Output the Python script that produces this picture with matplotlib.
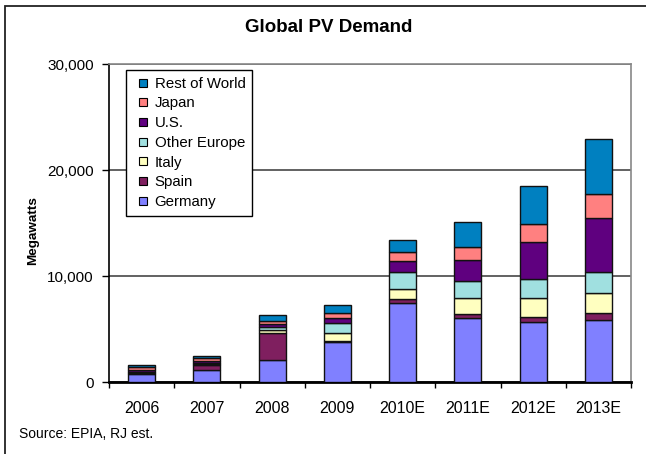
import numpy as np
import matplotlib.pyplot as plt
from matplotlib.patches import Rectangle
from matplotlib.lines import Line2D
from matplotlib.ticker import FuncFormatter, FixedLocator

plt.rcParams['font.family'] = ['Liberation Sans', 'DejaVu Sans']

years = ['2006', '2007', '2008', '2009', '2010E', '2011E', '2012E', '2013E']

# megawatts per region
germany = [800, 1100, 2040, 3800, 7460, 6030, 5650, 5870]
spain = [90, 520, 2620, 100, 350, 380, 510, 610]
italy = [20, 50, 290, 720, 950, 1530, 1780, 1930]
other_europe = [60, 130, 220, 950, 1650, 1550, 1770, 2000]
us = [150, 210, 340, 500, 990, 2030, 3460, 5050]
japan = [300, 230, 260, 450, 850, 1180, 1690, 2290]
rest_of_world = [150, 200, 530, 780, 1120, 2410, 3620, 5140]

series = [
    ('Germany', germany, '#8080ff'),
    ('Spain', spain, '#7f1f5f'),
    ('Italy', italy, '#ffffc0'),
    ('Other Europe', other_europe, '#a0e0e0'),
    ('U.S.', us, '#5f007f'),
    ('Japan', japan, '#ff8080'),
    ('Rest of World', rest_of_world, '#0080c0'),
]

fig = plt.figure(figsize=(6.46, 4.54), dpi=100)
# outer chart frame (right and bottom edges run off the image)
fig.patches.append(Rectangle((5 / 646, -0.1), 1.2, (454 - 6) / 454 + 0.1,
                             transform=fig.transFigure, fill=False,
                             edgecolor='#222222', linewidth=1.3))

ax = fig.add_axes([109 / 646, 1 - 382 / 454, (631 - 109) / 646, (382 - 64) / 454])

x = np.arange(len(years))
bottom = np.zeros(len(years))
handles = []
for name, vals, col in series:
    ax.bar(x, vals, width=0.41, bottom=bottom, color=col,
           edgecolor='#111111', linewidth=1.0, zorder=3)
    bottom += np.array(vals)
    handles.append(Line2D([], [], linestyle='none', marker='s', markersize=5.5,
                          markerfacecolor=col, markeredgecolor='black',
                          markeredgewidth=0.8, label=name))

ax.set_xlim(-0.5, len(years) - 0.5)
ax.set_ylim(0, 30000)
ax.set_yticks([0, 10000, 20000, 30000])
ax.yaxis.set_major_formatter(FuncFormatter(lambda v, p: f'{int(v):,}'))
ax.grid(axis='y', color='#555555', linewidth=1.3, zorder=0)

ax.set_xticks(x)
ax.set_xticklabels(years)
ax.xaxis.set_minor_locator(FixedLocator(np.arange(-0.5, len(years), 1.0)))
ax.tick_params(axis='x', which='major', length=0, pad=14, labelsize=11.5)
ax.tick_params(axis='x', which='minor', length=4, width=1, direction='out')
ax.tick_params(axis='y', length=5, width=1, direction='out', pad=6, labelsize=11)

for s in ['top', 'right']:
    ax.spines[s].set_color('#888888')
    ax.spines[s].set_linewidth(1.2)
ax.spines['left'].set_linewidth(1.2)
ax.spines['bottom'].set_linewidth(2)

ax.set_ylabel('Megawatts', fontweight='bold', fontsize=9.7)
ax.yaxis.set_label_coords(-0.134, 0.475)

leg = ax.legend(handles=handles[::-1], loc='upper left',
                bbox_to_anchor=(0.033, 0.981), fontsize=10.8, frameon=True,
                fancybox=False, framealpha=1, edgecolor='black',
                handlelength=1.3, handletextpad=0.15,
                labelspacing=0.38, borderpad=0.45, borderaxespad=0)
leg.get_frame().set_linewidth(1.0)
leg.set_zorder(5)

fig.text(329 / 646, 1 - 27 / 454, 'Global PV Demand',
         ha='center', va='center', fontsize=13.5, fontweight='bold')
fig.text(19 / 646, 1 - 434 / 454, 'Source: EPIA, RJ est.', ha='left',
         va='center', fontsize=10)

fig.savefig('out.png', dpi=100)
